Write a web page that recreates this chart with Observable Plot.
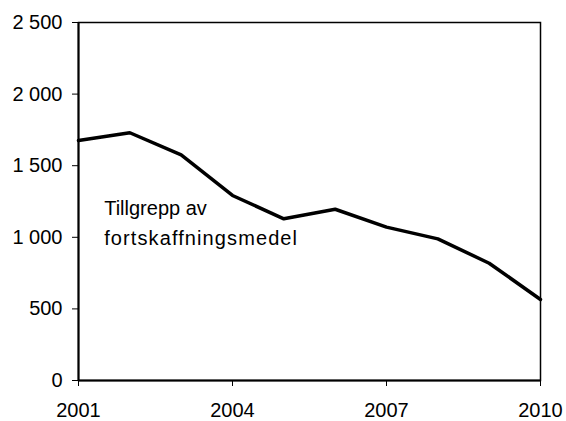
<!DOCTYPE html>
<html>
<head>
<meta charset="utf-8">
<script src="https://cdn.jsdelivr.net/npm/d3@7"></script>
<script src="https://cdn.jsdelivr.net/npm/@observablehq/plot@0.6"></script>
<style>
  html, body { margin: 0; padding: 0; background: #fff; }
  #chart svg { display: block; }
</style>
</head>
<body>
<div id="chart"></div>
<script>
const years = [2001, 2002, 2003, 2004, 2005, 2006, 2007, 2008, 2009, 2010];
const values = [1676, 1730, 1576, 1292, 1129, 1196, 1071, 989, 819, 566];
const xTicks = [2001, 2004, 2007, 2010];
const yTicks = [0, 500, 1000, 1500, 2000, 2500];
const labelLine1 = "Tillgrepp av";
const labelLine2 = "fortskaffningsmedel";

const data = years.map((y, i) => ({year: y, value: values[i]}));
const fmt = d3.formatLocale({decimal: ",", thousands: " ", grouping: [3], currency: ["", " kr"]}).format(",");

const chart = Plot.plot({
  width: 566,
  height: 421,
  marginLeft: 78,
  marginRight: 26,
  marginTop: 22,
  marginBottom: 41,
  style: {fontFamily: "'Liberation Sans', Arial, sans-serif", fontSize: "20px", color: "#000", background: "#fff"},
  x: {domain: [2001, 2010], ticks: xTicks, tickFormat: d => String(d), tickSize: 6, tickPadding: 16, label: null},
  y: {domain: [0, 2500], ticks: yTicks, tickFormat: fmt, tickSize: 6, tickPadding: 10, label: null},
  marks: [
    Plot.frame({stroke: "#000", strokeWidth: 1.5}),
    Plot.ruleX([2001], {stroke: "#000", strokeWidth: 2}),
    Plot.ruleY([0], {stroke: "#000", strokeWidth: 2}),
    Plot.line(data, {x: "year", y: "value", stroke: "#000", strokeWidth: 3.5, strokeLinejoin: "miter"}),
    Plot.text([labelLine1], {x: 2001.5, y: 1257, text: d => d, textAnchor: "start", lineAnchor: "top", fontSize: 20, fill: "#000"}),
    Plot.text([labelLine2], {x: 2001.5, y: 1257, dy: 30, text: d => d, textAnchor: "start", lineAnchor: "top", fontSize: 20, fill: "#000"})
  ]
});
d3.select(chart).selectAll("text").filter(function() { return this.textContent === labelLine2; }).attr("letter-spacing", "1.1px");
document.getElementById("chart").append(chart);
</script>
</body>
</html>
